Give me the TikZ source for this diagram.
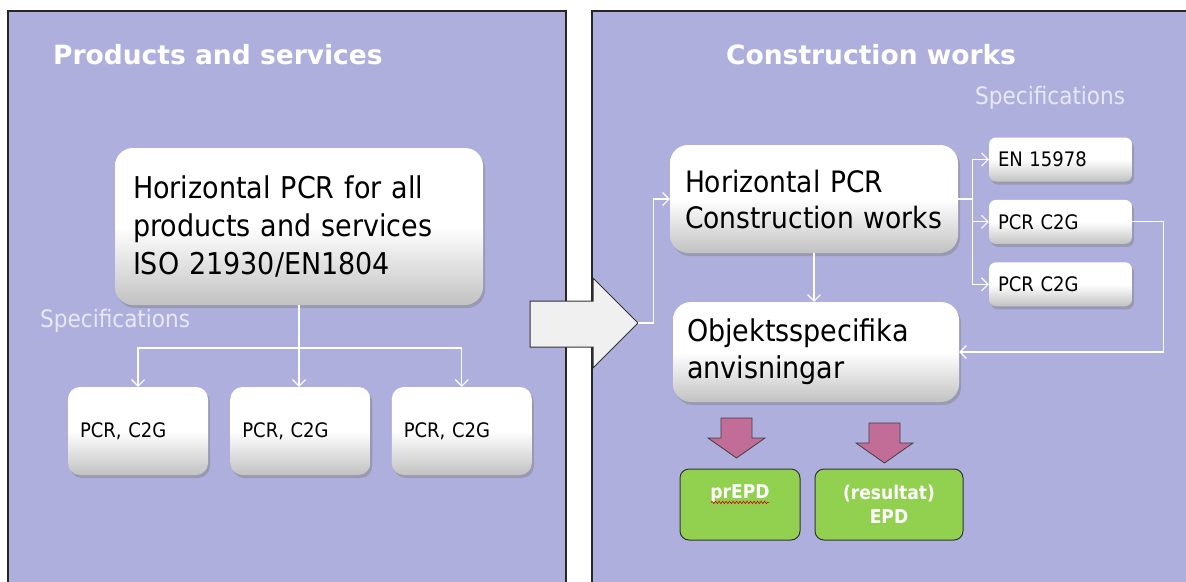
\documentclass[tikz,border=0pt]{standalone}
\usepackage{fontspec}
\setmainfont{DejaVu Sans}
\newfontfamily\condfont{DejaVu Sans Condensed}
\usetikzlibrary{arrows.meta,positioning,shadows,decorations.pathmorphing}
\definecolor{panelblue}{RGB}{175,175,222}
\definecolor{spectext}{RGB}{232,232,246}
\definecolor{arrowgray}{RGB}{240,240,240}
\definecolor{epdpink}{RGB}{194,108,152}
\definecolor{epdgreen}{RGB}{146,208,80}

\begin{document}
\begin{tikzpicture}[x=1pt, y=-1pt,
  panel/.style={draw=black!85, line width=1.5pt, fill=panelblue},
  ptitle/.style={anchor=west, inner sep=0pt, text=white,
                 font=\bfseries\fontsize{26.5}{30}\selectfont},
  spec/.style={anchor=west, inner sep=0pt, text=spectext,
               font=\condfont\fontsize{24}{28}\selectfont},
  box/.style={rectangle, align=left, inner ysep=0pt, top color=white,
              bottom color=black!24, middle color=white,
              drop shadow={shadow xshift=2pt, shadow yshift=-3pt, opacity=0.45}},
  bigbox/.style={box, rounded corners=18pt, font=\condfont\fontsize{30}{38}\selectfont},
  pcrbox/.style={box, rounded corners=12pt, inner xsep=12pt, text width=116pt,
                 minimum height=88pt, font=\condfont\fontsize{20}{24}\selectfont},
  specbox/.style={box, rounded corners=7pt, inner xsep=9pt, text width=125pt,
                  minimum height=44pt, font=\condfont\fontsize{20}{24}\selectfont},
  epd/.style={rectangle, rounded corners=9pt, draw=black!80, line width=1pt,
              fill=epdgreen, align=center, inner xsep=6pt, minimum height=71pt,
              text=white, font=\condfont\bfseries\fontsize{19}{24}\selectfont},
  bigarrow/.style={draw=black!80, line width=1pt, fill=arrowgray},
  pinkarrow/.style={draw=black!75, line width=0.8pt, fill=epdpink},
  link/.style={draw=white, line width=1.1pt},
  arr/.style={link, -{Straight Barb[length=6.5pt, width=13pt]}},
  squiggle/.style={draw=red!80!black, line width=0.6pt, decorate,
                   decoration={snake, amplitude=1.2pt, segment length=3.5pt}}]
  \useasboundingbox[fill=white] (0,0) rectangle (1186,581);
  \draw[panel] (8,11) rectangle (566,600);
  \draw[panel] (592,11) rectangle (1200,600);

  % products and services
  \node[ptitle] (ptitle) at (53,55) {Products and services};
  \node[bigbox, inner xsep=18pt, text width=332pt, minimum height=157pt] (hpcr) at (299,226.5)
       {Horizontal PCR for all\\products and services\\ISO 21930/EN1804};
  \node[spec] (specl) at (40,321) {Specifications};
  \node[pcrbox] (pcr1) at (138,431) {PCR, C2G};
  \node[pcrbox, right=22pt of pcr1] (pcr2) {PCR, C2G};
  \node[pcrbox, right=21pt of pcr2] (pcr3) {PCR, C2G};
  \coordinate (fork) at (hpcr.south |- 0,348);
  \draw[arr] (hpcr.south) -- (hpcr.south |- pcr2.north);
  \draw[arr] (fork) -| (pcr1.north);
  \draw[arr] (fork) -| (pcr3.north);

  % construction works
  \node[ptitle] (ctitle) at (726,55) {Construction works};
  \node[spec] (specr) at (975,98) {Specifications};
  \node[bigbox, font=\condfont\fontsize{29.5}{36}\selectfont, inner xsep=15pt, text width=258pt,
        minimum height=108pt] (cw) at (814,199) {Horizontal PCR\\Construction works};
  \node[bigbox, font=\condfont\fontsize{30}{37}\selectfont, inner xsep=14pt, text width=258pt,
        minimum height=100pt] (obj) at (816,352) {Objektsspecifika\\anvisningar};
  \node[specbox] (en) at (1060.5,159.5) {EN 15978};
  \node[specbox, below=18pt of en] (c2ga) {PCR C2G};
  \node[specbox, below=18pt of c2ga] (c2gb) {PCR C2G};
  \node[epd, text width=108pt, text depth=26pt] (prepd) at (740,504.5) {prEPD};
  \node[epd, text width=136pt] (epd) at (889,504.5) {(resultat)\\EPD};
  \draw[squiggle] ([xshift=-29pt,yshift=-4pt]prepd.base) -- ([xshift=29pt,yshift=-4pt]prepd.base);

  % big arrow between the panels
  \draw[bigarrow] (530,301) -- (593,301) -- (593,278) -- (638,323) -- (593,368)
                  -- (593,347) -- (530,347) -- cycle;
  \coordinate (tip) at (638,323);

  % pink arrows
  \draw[pinkarrow] (721,418) -- ++(31,0) -- ++(0,20) -- ++(13,0) -- ++(-28.5,20)
                   -- ++(-28.5,-20) -- ++(13,0) -- cycle;
  \draw[pinkarrow] (869,423) -- ++(31,0) -- ++(0,20) -- ++(13,0) -- ++(-28.5,20)
                   -- ++(-28.5,-20) -- ++(13,0) -- cycle;

  \draw[arr] (tip) -| ([xshift=-16pt]cw.west) -- (cw.west);
  \draw[arr] (cw.south) -- (cw.south |- obj.north);
  \coordinate (sfork) at ([xshift=14pt]cw.east);
  \draw[link] (cw.east) -- (sfork);
  \draw[arr] (sfork) |- (en.west);
  \draw[arr] (sfork) |- (c2ga.west);
  \draw[arr] (sfork) |- (c2gb.west);
  \draw[arr] (c2ga.east) -- ++(31,0) |- (obj.east);
\end{tikzpicture}
\end{document}
